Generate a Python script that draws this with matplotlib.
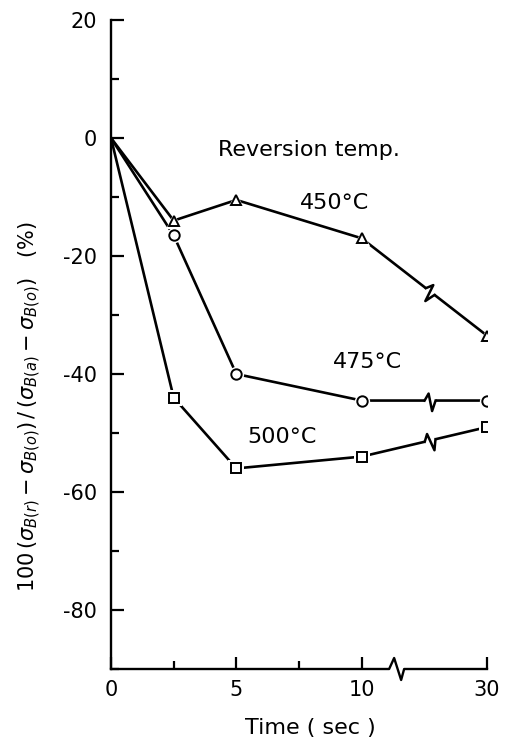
import matplotlib
matplotlib.use("Agg")
import matplotlib.pyplot as plt
import numpy as np
from matplotlib.transforms import IdentityTransform

# reversion time (sec) and relative change (%) for each reversion temperature
time_sec = [0, 2.5, 5, 10, 30]
temp_labels = ["450\u00b0C", "475\u00b0C", "500\u00b0C"]
change_450 = [0, -14, -10.5, -17, -33.5]
change_475 = [0, -16.5, -40, -44.5, -44.5]
change_500 = [0, -44, -56, -54, -49]

x_major = [0, 5, 10, 30]
x_minor = [2.5, 7.5]
y_major = [-80, -60, -40, -20, 0, 20]
y_minor = [-90, -70, -50, -30, -10, 10]

plt.rcParams['font.family'] = ['DejaVu Sans']
plt.rcParams['mathtext.fontset'] = 'dejavusans'
plt.rcParams['axes.unicode_minus'] = False


# broken time axis: everything past 10 s is squeezed to a quarter
def fwd(t):
    t = np.asarray(t, dtype=float)
    return np.where(t <= 10, t, 10 + (t - 10) / 4.0)


def inv(p):
    p = np.asarray(p, dtype=float)
    return np.where(p <= 10, p, 10 + (p - 10) * 4.0)


def zigzag(ax, t0, y0, t1, y1, t_break, offsets, lw=1.8):
    # draw a break mark on the segment between two data points (pixel space)
    p0 = ax.transData.transform((t0, y0))
    p1 = ax.transData.transform((t1, y1))
    f = (fwd(t_break) - fwd(t0)) / (fwd(t1) - fwd(t0))
    a = p0 + f * (p1 - p0)
    u = (p1 - p0) / np.hypot(*(p1 - p0))
    n = np.array([-u[1], u[0]])
    gap = np.array([a + offsets[0][0] * u, a + offsets[-1][0] * u])
    ax.plot(gap[:, 0], gap[:, 1], color='w', lw=4, transform=IdentityTransform(),
            clip_on=False, zorder=5, solid_capstyle='butt')
    pts = np.array([a + dx * u + dy * n for dx, dy in offsets])
    ax.plot(pts[:, 0], pts[:, 1], color='k', lw=lw, transform=IdentityTransform(),
            clip_on=False, zorder=6)


fig = plt.figure(figsize=(5.07, 7.47), dpi=100)
ax = fig.add_axes([111 / 507, 1 - 669 / 747, 376 / 507, 649 / 747])
ax.set_xscale('function', functions=(fwd, inv))
ax.set_xlim(0, 30)
ax.set_ylim(-90, 20)

series = [(change_450, '^'), (change_475, 'o'), (change_500, 's')]
for vals, m in series:
    ax.plot(time_sec, vals, color='k', lw=1.9, zorder=2)
    ax.plot(time_sec[1:], vals[1:], ls='none', marker=m, ms=11, mfc='w', mec='w',
            mew=0, zorder=3)
    ax.plot(time_sec[1:], vals[1:], ls='none', marker=m, ms=7.5, mfc='w', mec='k',
            mew=1.4, zorder=4)

ax.set_xticks(x_major)
ax.set_xticklabels([str(v) for v in x_major])
ax.set_xticks(x_minor, minor=True)
ax.set_yticks(y_major)
ax.set_yticks(y_minor, minor=True)
ax.tick_params(which='both', direction='in', width=1.6, labelsize=15)
ax.tick_params(axis='y', which='major', length=9, pad=10)
ax.tick_params(axis='y', which='minor', length=6)
ax.tick_params(axis='x', which='major', length=9, pad=8)
ax.tick_params(axis='x', which='minor', length=6)

for side in ['top', 'right', 'bottom']:
    ax.spines[side].set_visible(False)
ax.spines['left'].set_linewidth(1.7)

# bottom axis drawn by hand so it can carry the break mark
bb = ax.get_window_extent()
xb = ax.transData.transform((15.5, 0))[0]
y0 = bb.y0
ax.plot([bb.x0, xb - 7, xb - 2, xb + 5, xb + 8, bb.x1],
        [y0, y0, y0 + 11, y0 - 11, y0, y0],
        color='k', lw=1.7, transform=IdentityTransform(), clip_on=False, zorder=6)

zz = [(-6, 0), (-2, 7), (1.5, -10.5), (5, 0)]
for vals, m in series:
    zigzag(ax, time_sec[3], vals[3], time_sec[4], vals[4], 21, zz)

ax.text(4.25, -2, "Reversion temp.", fontsize=16, va='center', ha='left')
ax.text(7.55, -11, temp_labels[0], fontsize=16, va='center', ha='left')
ax.text(8.85, -38, temp_labels[1], fontsize=16, va='center', ha='left')
ax.text(5.45, -50.7, temp_labels[2], fontsize=16, va='center', ha='left')

fig.text(310 / 507, 1 - 728 / 747, "Time ( sec )", fontsize=16, ha='center', va='center')
fig.text(30 / 507, 1 - 407 / 747,
         r"$100\,(\sigma_{B(r)}-\sigma_{B(o)})\,/\,(\sigma_{B(a)}-\sigma_{B(o)})$   (%)",
         fontsize=15, rotation=90, ha='center', va='center')

fig.savefig("out.png", dpi=100)
